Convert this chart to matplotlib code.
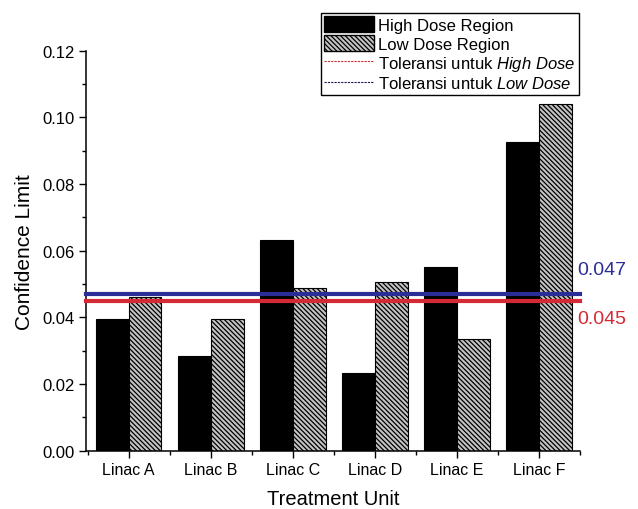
import matplotlib
matplotlib.use("Agg")
import matplotlib.pyplot as plt
import numpy as np
from matplotlib.patches import Patch
from matplotlib.lines import Line2D
from matplotlib.ticker import MultipleLocator, FixedLocator

plt.rcParams['font.family'] = ['Liberation Sans', 'DejaVu Sans']
plt.rcParams['mathtext.fontset'] = 'custom'
plt.rcParams['mathtext.it'] = 'Liberation Sans:italic'
plt.rcParams['mathtext.rm'] = 'Liberation Sans'
plt.rcParams['hatch.linewidth'] = 0.9

categories = ["Linac A", "Linac B", "Linac C", "Linac D", "Linac E", "Linac F"]
high_dose = [0.0396, 0.0285, 0.0631, 0.0232, 0.0550, 0.0927]
low_dose = [0.0462, 0.0396, 0.0488, 0.0507, 0.0334, 0.1039]
tol_high = 0.045
tol_low = 0.047
yticks = [0.00, 0.02, 0.04, 0.06, 0.08, 0.10, 0.12]

HATCH = '\\' * 7
GRAY = '#c4c4c4'
RED = '#d42a35'
BLUE = '#2a2e96'

fig = plt.figure(figsize=(6.38, 5.1), dpi=100)
ax = fig.add_axes([86/638, 1-451.7/510, (580-86)/638, (451.7-51.7)/510])

x = np.arange(len(categories))
w = 0.4
ax.bar(x - w/2, high_dose, w, color='black', edgecolor='black', linewidth=0.8, zorder=2)
ax.bar(x + w/2, low_dose, w, color=GRAY, edgecolor='black', hatch=HATCH, linewidth=0.8, zorder=2)

ax.axhline(tol_high, color=RED, lw=3, zorder=3, clip_on=False)
ax.axhline(tol_low, color=BLUE, lw=3, zorder=3, clip_on=False)

ax.set_xlim(-0.52, 5.5)
ax.set_ylim(0, 0.12)
ax.set_xticks(x)
ax.set_xticklabels(categories, fontsize=11.5)
ax.xaxis.set_minor_locator(FixedLocator(np.arange(-0.5, 6, 1.0)))
ax.set_yticks(yticks)
ax.set_yticklabels([f"{v:.2f}" for v in yticks], fontsize=12)
ax.yaxis.set_minor_locator(MultipleLocator(0.01))
ax.tick_params(axis='both', which='major', direction='out', length=5, width=1, pad=3)
ax.tick_params(axis='both', which='minor', direction='out', length=3, width=1)
for s in ['top', 'right']:
    ax.spines[s].set_visible(False)
for s in ['left', 'bottom']:
    ax.spines[s].set_linewidth(1.1)

ax.set_xlabel("Treatment Unit", fontsize=14.5, labelpad=9)
ax.set_ylabel("Confidence Limit", fontsize=15, labelpad=6)

ax.text(5.5 - 0.03, tol_low + 0.0048, "0.047", color=BLUE, fontsize=14,
        ha='left', va='bottom', clip_on=False)
ax.text(5.5 - 0.03, tol_high - 0.0028, "0.045", color=RED, fontsize=14,
        ha='left', va='top', clip_on=False)

handles = [
    Patch(facecolor='black', edgecolor='black'),
    Patch(facecolor=GRAY, edgecolor='black', hatch=HATCH),
    Line2D([0], [0], color=RED, lw=0.8, ls=(0, (2, 1))),
    Line2D([0], [0], color='#1a1a50', lw=0.8, ls=(0, (2, 1))),
]
labels = ["High Dose Region", "Low Dose Region",
          r"Toleransi untuk $\mathit{High\ Dose}$",
          r"Toleransi untuk $\mathit{Low\ Dose}$"]
leg = fig.legend(handles, labels, loc='upper right',
                 bbox_to_anchor=(579/638, 1-14/510), fontsize=12,
                 frameon=True, fancybox=False, edgecolor='black', framealpha=1,
                 handlelength=3.0, handleheight=1.1, handletextpad=0.25,
                 labelspacing=0.12, borderpad=0.2, borderaxespad=0)
leg.get_frame().set_linewidth(1.0)

fig.savefig("out.png", dpi=100)
